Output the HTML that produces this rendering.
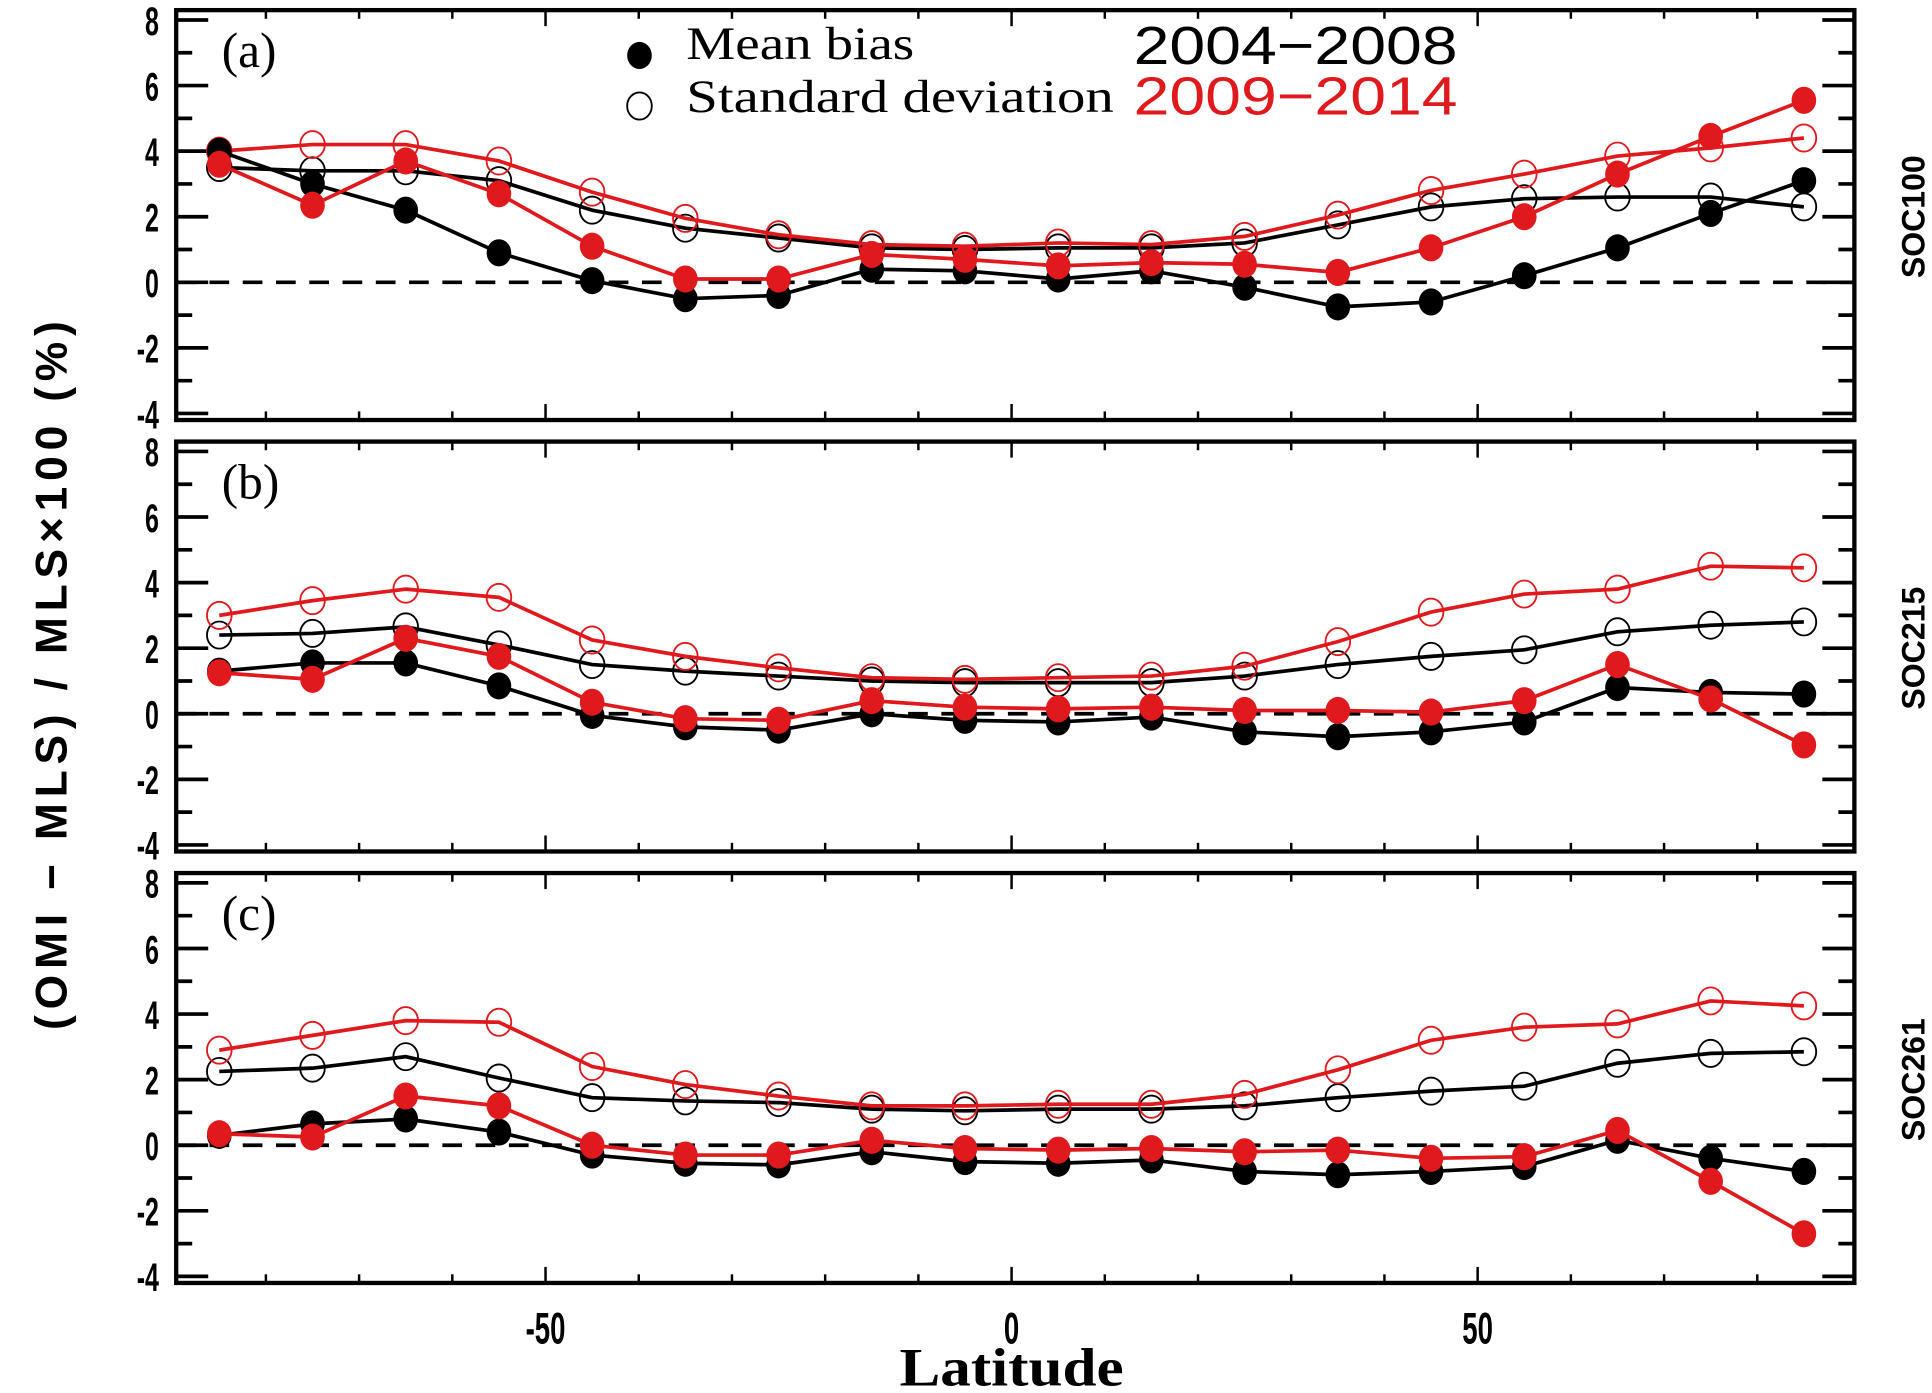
<!DOCTYPE html>
<html><head><meta charset="utf-8"><style>
html,body{margin:0;padding:0;background:#fff;}
svg{display:block;}
</style></head><body>
<svg id="chart" width="1932" height="1393" viewBox="0 0 1568 1130" preserveAspectRatio="none" xmlns="http://www.w3.org/2000/svg">
<text transform="translate(54,548) rotate(-90)" text-anchor="middle" font-family="Liberation Sans, sans-serif" font-weight="bold" font-size="36" textLength="575" lengthAdjust="spacing">(OMI − MLS) / MLS×100 (%)</text>
<text x="730" y="1124" font-family="Liberation Serif, serif" font-weight="bold" font-size="44" textLength="182" lengthAdjust="spacingAndGlyphs">Latitude</text>
<g>
<ellipse cx="519" cy="45" rx="10" ry="11" fill="#000"/>
<text x="557" y="48" font-family="Liberation Serif, serif" font-size="38" textLength="185" lengthAdjust="spacingAndGlyphs">Mean bias</text>
<ellipse cx="519" cy="86" rx="10" ry="11" fill="none" stroke="#000" stroke-width="1.5"/>
<text x="557" y="91" font-family="Liberation Serif, serif" font-size="38" textLength="347" lengthAdjust="spacingAndGlyphs">Standard deviation</text>
<text x="920" y="52" font-family="Liberation Sans, sans-serif" font-size="44" fill="#000" textLength="263" lengthAdjust="spacingAndGlyphs">2004−2008</text>
<text x="920" y="93" font-family="Liberation Sans, sans-serif" font-size="44" fill="#e0191c" textLength="263" lengthAdjust="spacingAndGlyphs">2009−2014</text>
</g>
</svg>
<script>
const lats = [-85,-75,-65,-55,-45,-35,-25,-15,-5,5,15,25,35,45,55,65,75,85];
const panelNames = ['a','b','c'];
const panelLabels = ['SOC100','SOC215','SOC261'];
const yTicks = [-4,-2,0,2,4,6,8];
const xTickLabels = [-50,0,50];
// Panel a
const aBlackMean = [4.0,3.0,2.2,0.9,0.05,-0.5,-0.4,0.4,0.35,0.1,0.35,-0.15,-0.75,-0.6,0.2,1.05,2.1,3.1];
const aBlackStd  = [3.5,3.4,3.4,3.1,2.2,1.65,1.35,1.05,1.0,1.05,1.05,1.2,1.75,2.3,2.55,2.6,2.6,2.3];
const aRedMean   = [3.6,2.35,3.7,2.7,1.1,0.1,0.1,0.85,0.7,0.5,0.6,0.55,0.3,1.05,2.0,3.3,4.45,5.55];
const aRedStd    = [4.0,4.2,4.2,3.7,2.75,1.95,1.45,1.15,1.1,1.2,1.15,1.4,2.05,2.8,3.3,3.85,4.1,4.4];
// Panel b
const bBlackMean = [1.3,1.55,1.55,0.85,-0.05,-0.4,-0.5,0.0,-0.2,-0.25,-0.1,-0.55,-0.7,-0.55,-0.25,0.8,0.65,0.6];
const bBlackStd  = [2.4,2.45,2.65,2.1,1.5,1.3,1.15,1.0,0.95,0.95,0.95,1.15,1.5,1.75,1.95,2.5,2.7,2.8];
const bRedMean   = [1.25,1.05,2.3,1.75,0.35,-0.15,-0.2,0.4,0.2,0.15,0.2,0.1,0.1,0.05,0.4,1.5,0.45,-0.95];
const bRedStd    = [3.0,3.45,3.8,3.55,2.25,1.75,1.4,1.1,1.05,1.1,1.15,1.45,2.2,3.1,3.65,3.8,4.5,4.45];
// Panel c
const cBlackMean = [0.3,0.65,0.8,0.4,-0.3,-0.55,-0.6,-0.2,-0.5,-0.55,-0.45,-0.8,-0.9,-0.8,-0.65,0.15,-0.4,-0.8];
const cBlackStd  = [2.25,2.35,2.7,2.05,1.45,1.35,1.3,1.1,1.05,1.1,1.1,1.2,1.45,1.65,1.8,2.5,2.8,2.85];
const cRedMean   = [0.35,0.25,1.5,1.2,0.0,-0.3,-0.3,0.15,-0.1,-0.15,-0.1,-0.2,-0.15,-0.4,-0.35,0.45,-1.1,-2.7];
const cRedStd    = [2.9,3.35,3.8,3.75,2.4,1.85,1.5,1.2,1.2,1.25,1.25,1.55,2.3,3.2,3.6,3.7,4.4,4.25];

const panels = [
  {bm:aBlackMean,bs:aBlackStd,rm:aRedMean,rs:aRedStd},
  {bm:bBlackMean,bs:bBlackStd,rm:bRedMean,rs:bRedStd},
  {bm:cBlackMean,bs:cBlackStd,rm:cRedMean,rs:cRedStd}
];
const NS = 'http://www.w3.org/2000/svg';
const svg = document.getElementById('chart');
const L = 143, R = 1505, RED = '#e0191c';
const xs = v => 821 + v * 7.565;
function mk(tag, attrs, parent) {
  const e = document.createElementNS(NS, tag);
  for (const k in attrs) e.setAttribute(k, attrs[k]);
  (parent || svg).appendChild(e);
  return e;
}
panels.forEach((p, i) => {
  const y0 = 229 + i * 350;
  const ys = v => y0 - v * 26.6;
  const top = ys(8.3), bot = ys(-4.2);
  const g = mk('g', {});
  
  
  const fr = mk('rect', {x:L, y:top, width:R-L, height:bot-top, fill:'none', stroke:'#000', 'stroke-width':3.5}, g);
  
  
  const zl = mk('line', {x1:L, x2:R, y1:ys(0), y2:ys(0), stroke:'#000', 'stroke-width':3, 'stroke-dasharray':'16,11'}, g);
  
  
  for (let v = -4; v <= 8; v++) {
    const len = (v % 2 === 0) ? 26 : 13;
    mk('line', {x1:L, x2:L+len, y1:ys(v), y2:ys(v), stroke:'#000', 'stroke-width':3}, g);
    mk('line', {x1:R, x2:R-len, y1:ys(v), y2:ys(v), stroke:'#000', 'stroke-width':3}, g);
  }
  yTicks.forEach(v => {
    const t = mk('text', {transform:'translate(' + (L-14) + ',' + (ys(v)+12) + ') scale(0.78,1.25)', 'text-anchor':'end', 'font-family':'Liberation Sans, sans-serif', 'font-weight':'bold', 'font-size':26}, g);
    
    
    t.textContent = v;
  });
  for (let v = -80; v <= 80; v += 10) {
    const len = (v % 50 === 0) ? 13 : 7;
    mk('line', {x1:xs(v), x2:xs(v), y1:bot, y2:bot-len, stroke:'#000', 'stroke-width':2}, g);
    mk('line', {x1:xs(v), x2:xs(v), y1:top, y2:top+len, stroke:'#000', 'stroke-width':2}, g);
  }
  const pl = mk('text', {x:180, y:top+46, 'font-family':'Liberation Serif, serif', 'font-size':40}, g);
  
  
  pl.textContent = '(' + panelNames[i] + ')';
  const rl = mk('text', {transform:'translate(1562,' + ys(2) + ') rotate(-90)', 'text-anchor':'middle', 'font-family':'Liberation Sans, sans-serif', 'font-weight':'bold', 'font-size':26}, g);
  
  
  rl.textContent = panelLabels[i];
  const series = [
    {d:p.bs, c:'#000', fill:false, n:'std-2004-2008'},
    {d:p.rs, c:RED, fill:false, n:'std-2009-2014'},
    {d:p.bm, c:'#000', fill:true, n:'mean-2004-2008'},
    {d:p.rm, c:RED, fill:true, n:'mean-2009-2014'}
  ];
  series.forEach(s => {
    const sg = mk('g', {}, g);
    
    
    const pts = s.d.map((v, k) => xs(lats[k]) + ',' + ys(v)).join(' ');
    const pl2 = mk('polyline', {points:pts, fill:'none', stroke:s.c, 'stroke-width':3}, sg);
    
    
    s.d.forEach((v, k) => {
      const m = mk('ellipse', {cx:xs(lats[k]), cy:ys(v), rx:10, ry:11,
        fill: s.fill ? s.c : 'none', stroke:s.c, 'stroke-width': s.fill ? 0 : 1.5}, sg);
      
      
    });
  });
  if (i === 2) {
    xTickLabels.forEach(v => {
      const t = mk('text', {transform:'translate(' + xs(v) + ',1090) scale(0.8,1.3)', 'text-anchor':'middle', 'font-family':'Liberation Sans, sans-serif', 'font-weight':'bold', 'font-size':28});
      
      
      t.textContent = v;
    });
  }
});
</script>
</body></html>
